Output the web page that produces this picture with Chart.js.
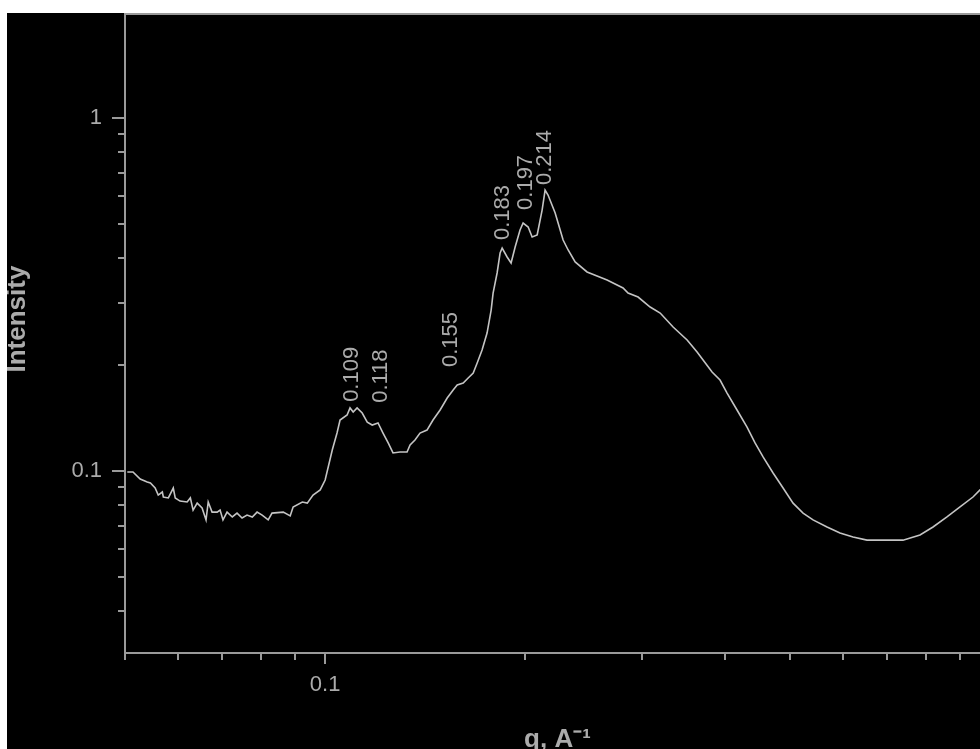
<!DOCTYPE html>
<html>
<head>
<meta charset="utf-8">
<script src="https://cdn.jsdelivr.net/npm/chart.js@4.4.1/dist/chart.umd.min.js"></script>
<style>
  html, body { margin: 0; padding: 0; background: #fff; overflow: hidden; }
  #wrap { position: absolute; left: 7px; top: 13px; width: 973px; height: 736px; background: #000; overflow: hidden; }
  #chart { display: block; }
</style>
</head>
<body>
<div id="wrap"><canvas id="chart" width="1000" height="742"></canvas></div>
<script>
// q (1/A) and intensity
const qValues = [
  0.0504, 0.0514, 0.0527, 0.0540, 0.0546, 0.0555, 0.0561, 0.0569, 0.0571, 0.0581,
  0.0591, 0.0595, 0.0605, 0.0620, 0.0627, 0.0633, 0.0642, 0.0653, 0.0662, 0.0667,
  0.0676, 0.0688, 0.0695, 0.0702, 0.0712, 0.0725, 0.0737, 0.0750, 0.0763, 0.0777,
  0.0790, 0.0804, 0.0821, 0.0832, 0.0865, 0.0886, 0.0895, 0.0924, 0.0940, 0.0959,
  0.0983, 0.1000,
  0.1025, 0.1042, 0.1053, 0.1079, 0.1090, 0.1102, 0.1117, 0.1137, 0.1157, 0.1177,
  0.1201, 0.1222, 0.1244, 0.1265, 0.1296, 0.1328, 0.1342, 0.1365, 0.1389, 0.1423,
  0.1453, 0.1489, 0.1526, 0.1558, 0.1580, 0.1613, 0.1641, 0.1670, 0.1693, 0.1722,
  0.1752, 0.1777, 0.1789, 0.1814, 0.1833, 0.1846, 0.1878, 0.1904, 0.1931, 0.1964,
  0.1985, 0.2020, 0.2048, 0.2084, 0.2120, 0.2142, 0.2164, 0.2218, 0.2280, 0.2320,
  0.2377, 0.2477, 0.2655, 0.2806, 0.2855, 0.2956, 0.3082, 0.3191, 0.3337, 0.3503,
  0.3626, 0.3702, 0.3819, 0.3926, 0.4023, 0.4164, 0.4311, 0.4432, 0.4557, 0.4718,
  0.4884, 0.5056, 0.5234, 0.5418, 0.5687, 0.5948, 0.6223, 0.6531, 0.7398, 0.7847,
  0.8209, 0.8615, 0.9014, 0.9428, 0.9661, 1.0
];
const intensity = [
  0.0994, 0.0994, 0.0949, 0.0931, 0.0925, 0.0895, 0.0855, 0.0872, 0.0844, 0.0839,
  0.0895, 0.0839, 0.0822, 0.0817, 0.0839, 0.0775, 0.0811, 0.0786, 0.0727, 0.0817,
  0.0765, 0.0765, 0.0775, 0.0727, 0.0765, 0.0741, 0.0760, 0.0736, 0.0750, 0.0741,
  0.0765, 0.0750, 0.0727, 0.0760, 0.0765, 0.0746, 0.0791, 0.0817, 0.0811, 0.0855,
  0.0884, 0.0943,
  0.1147, 0.1281, 0.1395, 0.1441, 0.1509, 0.1469, 0.1509, 0.1460, 0.1376, 0.1350,
  0.1368, 0.1281, 0.1201, 0.1125, 0.1132, 0.1132, 0.1185, 0.1224, 0.1281, 0.1306,
  0.1395, 0.1489, 0.1610, 0.1697, 0.1752, 0.1775, 0.1834, 0.1895, 0.2022, 0.2202,
  0.2460, 0.2858, 0.3192, 0.3639, 0.4146, 0.4282, 0.4040, 0.3884, 0.4311, 0.4817,
  0.5041, 0.4912, 0.4602, 0.4663, 0.5486, 0.6252, 0.6051, 0.5380, 0.4512, 0.4228,
  0.3910, 0.3663, 0.3476, 0.3299, 0.3192, 0.3111, 0.2914, 0.2803, 0.2558, 0.2350,
  0.2173, 0.2063, 0.1908, 0.1810, 0.1663, 0.1489, 0.1332, 0.1201, 0.1096, 0.0987,
  0.0895, 0.0811, 0.0760, 0.0727, 0.0694, 0.0667, 0.0650, 0.0637, 0.0637, 0.0659,
  0.0694, 0.0741, 0.0791, 0.0844, 0.0884, 0.0940
];

// peak annotations (text, where it sits in data units)
const peakText = ['0.109', '0.118', '0.155', '0.183', '0.197', '0.214'];
const peakLabelQ = [0.1098, 0.1214, 0.1547, 0.1853, 0.2005, 0.2142];
const peakLabelI = [0.157, 0.156, 0.197, 0.451, 0.549, 0.646];

// axis ticks
const xTicks = [0.05, 0.06, 0.07, 0.08, 0.09, 0.1, 0.2, 0.3, 0.4, 0.5, 0.6, 0.7, 0.8, 0.9, 1];
const yTicks = [0.04, 0.05, 0.06, 0.07, 0.08, 0.09, 0.1, 0.2, 0.3, 0.4, 0.5, 0.6, 0.7, 0.8, 0.9, 1];
const labelled = [0.1, 1];

const axisColor = '#9a9a9a';
const textColor = '#ababab';
const font = '"Liberation Sans", Arial, sans-serif';

const isMajor = v => labelled.includes(v);

const peakLabels = {
    id: 'peakLabels',
    afterDatasetsDraw(chart) {
        const { ctx, scales } = chart;
        ctx.save();
        ctx.font = '22px ' + font;
        ctx.fillStyle = textColor;
        ctx.textAlign = 'left';
        ctx.textBaseline = 'middle';
        peakText.forEach((t, i) => {
            ctx.save();
            ctx.translate(scales.x.getPixelForValue(peakLabelQ[i]), scales.y.getPixelForValue(peakLabelI[i]));
            ctx.rotate(-Math.PI / 2);
            ctx.fillText(t, 0, 0);
            ctx.restore();
        });
        ctx.restore();
    }
};

new Chart(document.getElementById('chart'), {
    type: 'line',
    data: {
        datasets: [{
            data: qValues.map((q, i) => ({ x: q, y: intensity[i] })),
            borderColor: '#c4c4c4',
            borderWidth: 1.6,
            pointRadius: 0,
            tension: 0
        }]
    },
    options: {
        responsive: false,
        animation: false,
        devicePixelRatio: 1,
        layout: { padding: { left: 0, top: 0, right: 17, bottom: 0 } },
        plugins: { legend: { display: false }, tooltip: { enabled: false } },
        scales: {
            x: {
                type: 'logarithmic',
                position: 'bottom',
                min: 0.05,
                max: 1,
                afterBuildTicks: s => { s.ticks = xTicks.map(v => ({ value: v, major: isMajor(v) })); },
                afterFit: s => { s.height = 102; s.paddingLeft = 0; s.paddingRight = 0; },
                border: { color: axisColor, width: 2 },
                grid: {
                    drawOnChartArea: false,
                    color: axisColor,
                    lineWidth: 2,
                    tickLength: 11,
                    tickBorderDash: c => (c.tick && isMajor(c.tick.value)) ? [] : [6, 100]
                },
                ticks: {
                    autoSkip: false,
                    maxRotation: 0,
                    padding: 8,
                    color: textColor,
                    font: { family: font, size: 22 },
                    callback: v => isMajor(v) ? String(v) : ''
                },
                title: {
                    display: true,
                    text: 'q, A⁻¹',
                    color: textColor,
                    padding: 0,
                    font: { family: font, size: 26, weight: 'bold' }
                }
            },
            x2: {
                type: 'logarithmic',
                position: 'top',
                min: 0.05,
                max: 1,
                afterFit: s => { s.height = 1; s.paddingLeft = 0; s.paddingRight = 0; },
                border: { color: axisColor, width: 2 },
                grid: { display: false },
                ticks: { display: false }
            },
            y: {
                type: 'logarithmic',
                position: 'left',
                min: 0.03051,
                max: 1.971,
                afterBuildTicks: s => { s.ticks = yTicks.map(v => ({ value: v, major: isMajor(v) })); },
                afterFit: s => { s.width = 118; s.paddingTop = 0; s.paddingBottom = 0; },
                border: { color: axisColor, width: 2 },
                grid: {
                    drawOnChartArea: false,
                    color: axisColor,
                    lineWidth: 2,
                    tickLength: 13,
                    tickBorderDash: c => (c.tick && isMajor(c.tick.value)) ? [] : [0, 6, 6, 100]
                },
                ticks: {
                    autoSkip: false,
                    padding: 10,
                    color: textColor,
                    font: { family: font, size: 22 },
                    callback: v => isMajor(v) ? String(v) : ''
                },
                title: {
                    display: true,
                    // leading spaces nudge the centred title up, as in the original
                    text: '    Intensity',
                    color: textColor,
                    padding: 0,
                    font: { family: font, size: 26, weight: 'bold', lineHeight: 0.85 }
                }
            }
        }
    },
    plugins: [peakLabels]
});
</script>
</body>
</html>
